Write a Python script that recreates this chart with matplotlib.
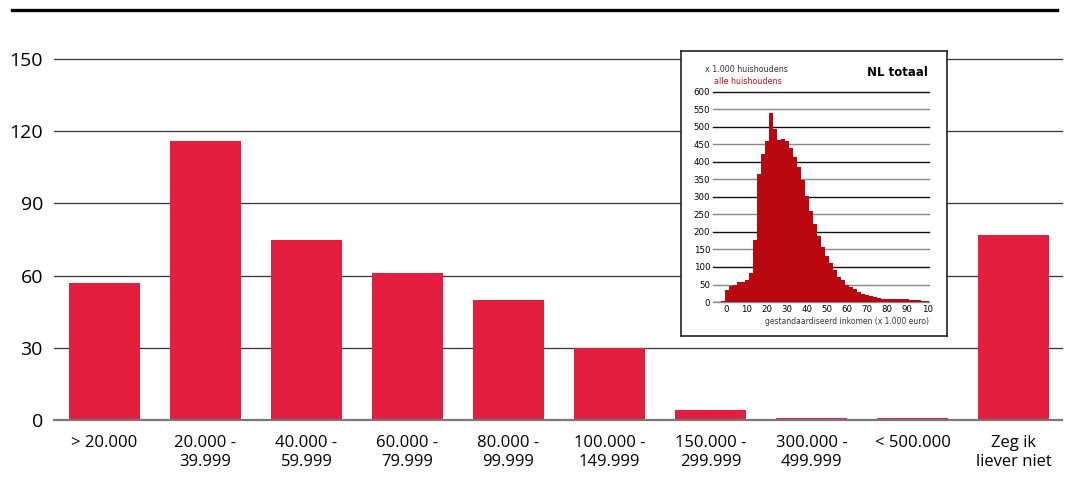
import numpy as np
import matplotlib
matplotlib.use('Agg')
import matplotlib.pyplot as plt
from matplotlib.lines import Line2D

plt.rcParams['font.family'] = ['Open Sans', 'DejaVu Sans']

# main chart data
categories = ['> 20.000', '20.000 -\n39.999', '40.000 -\n59.999', '60.000 -\n79.999',
              '80.000 -\n99.999', '100.000 -\n149.999', '150.000 -\n299.999',
              '300.000 -\n499.999', '< 500.000', 'Zeg ik\nliever niet']
counts = [57, 116, 75, 61, 50, 30, 4, 1, 1, 77]
y_ticks = [0, 30, 60, 90, 120, 150]

# inset: NL totaal, households per 2.000 euro income bin
hist_left = list(range(-3, 101, 2))
hist_vals = [3, 33, 45, 50, 56, 58, 64, 84, 178, 366,
             423, 460, 540, 495, 463, 466, 461, 440, 415, 386,
             348, 304, 261, 222, 188, 158, 130, 110, 90, 72,
             62, 50, 42, 36, 29, 24, 21, 18, 15, 12,
             10, 10, 8, 8, 8, 8, 8, 6, 6, 6,
             3, 3]
inset_xticks = [0, 10, 20, 30, 40, 50, 60, 70, 80, 90, 100]
inset_xlabels = ['0', '10', '20', '30', '40', '50', '60', '70', '80', '90', '10']
inset_yticks = list(range(0, 601, 50))

red = '#E41E3F'
dark_red = '#BA0811'

fig = plt.figure(figsize=(10.67, 5.01), dpi=100)

# thick rule at top
fig.add_artist(Line2D([0.011, 0.991], [0.980, 0.980], transform=fig.transFigure,
                      color='black', lw=2.4))

ax = fig.add_axes([0.0506, 0.1617, 0.9447, 0.7205])
x = np.arange(len(categories))
ax.bar(x, counts, width=0.71, color=red, zorder=3)
ax.set_xlim(-0.5, 9.48)
ax.set_ylim(0, 150)
ax.set_yticks(y_ticks)
ax.set_yticklabels([str(v) for v in y_ticks], fontsize=14)
ax.set_xticks(x)
ax.set_xticklabels(categories, fontsize=12, linespacing=1.25)
ax.tick_params(axis='both', length=0, pad=8)
ax.tick_params(axis='x', pad=11)
for s in ['top', 'right', 'left']:
    ax.spines[s].set_visible(False)
ax.spines['bottom'].set_color('#777777')
ax.spines['bottom'].set_linewidth(1.6)
ax.spines['bottom'].set_zorder(4)
for v in y_ticks[1:]:
    ax.axhline(v, color='#333333', lw=0.9, zorder=1, clip_on=False)

# inset frame
frame = fig.add_axes([0.638, 0.329, 0.2495, 0.569])
frame.set_xticks([])
frame.set_yticks([])
frame.set_facecolor('white')
for s in frame.spines.values():
    s.set_linewidth(1.2)
    s.set_color('#222222')
frame.text(0.09, 0.935, 'x 1.000 huishoudens', transform=frame.transAxes,
           fontsize=5.8, color='#333333', family=['DejaVu Sans'], va='center')
frame.text(0.125, 0.895, 'alle huishoudens', transform=frame.transAxes,
           fontsize=5.8, color='#C0101A', family=['DejaVu Sans'], va='center')
frame.text(0.93, 0.925, 'NL totaal', transform=frame.transAxes, fontsize=8.5,
           fontweight='bold', family=['DejaVu Sans'], ha='right', va='center')

ins = fig.add_axes([0.6682, 0.3972, 0.2025, 0.4192])
ins.bar(hist_left, hist_vals, width=2, align='edge', color=dark_red, zorder=3)
ins.set_xlim(-6.8, 101)
ins.set_ylim(0, 600)
ins.set_yticks(inset_yticks)
ins.set_yticklabels([str(v) for v in inset_yticks], fontsize=6.2, family=['DejaVu Sans'])
ins.set_xticks(inset_xticks)
ins.set_xticklabels(inset_xlabels, fontsize=6.2, family=['DejaVu Sans'])
ins.tick_params(axis='both', length=0, pad=2)
for s in ins.spines.values():
    s.set_visible(False)
for i, v in enumerate(inset_yticks):
    col = '#111111' if i % 2 == 0 and v != 0 else '#888888'
    ins.axhline(v, color=col, lw=1.0, zorder=1, clip_on=False)
ins.axhline(0, color='#333333', lw=1.0, zorder=4)
ins.set_xlabel('gestandaardiseerd inkomen (x 1.000 euro)', fontsize=5.5,
               family=['DejaVu Sans'], color='#333333', labelpad=2, loc='right')

fig.savefig('out.png', dpi=100)
